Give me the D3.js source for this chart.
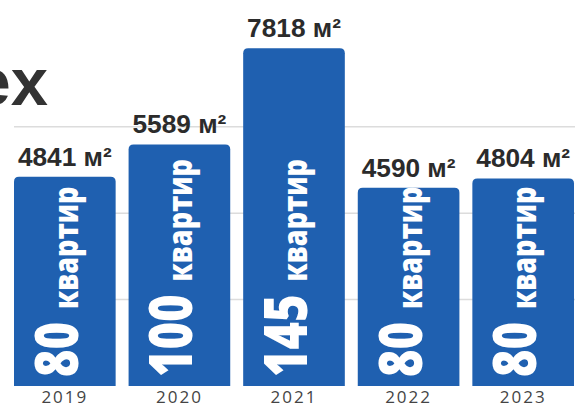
<!DOCTYPE html>
<html>
<head>
<meta charset="utf-8">
<script src="https://cdn.jsdelivr.net/npm/d3@7"></script>
<style>
  html, body { margin: 0; padding: 0; background: #fff; }
  svg { display: block; }
</style>
</head>
<body>
<svg width="580" height="407"></svg>
<script>
const years = ["2019", "2020", "2021", "2022", "2023"]
const areas = [4841, 5589, 7818, 4590, 4804]
const flats = [80, 100, 145, 80, 80]
const gridTicks = [2000, 4000, 6000]

const svg = d3.select("svg")

const data = years.map((y, i) => {
  return { year: y, area: areas[i], flats: flats[i] }
})

const x = d3.scaleBand()
  .domain(years)
  .range([14, 574])
  .paddingInner(0.113)
  .paddingOuter(0)

const y = d3.scaleLinear()
  .domain([0, 8000])
  .range([386, 40.3])

// title fragment, cut off at the left edge
svg.append("text")
  .attr("x", 48)
  .attr("y", 105)
  .attr("text-anchor", "end")
  .attr("font-family", "Liberation Sans, Arial, sans-serif")
  .attr("font-weight", 700)
  .attr("font-size", 67)
  .attr("fill", "#333")
  .text("ex")

// gridlines
svg.append("g")
  .selectAll("line")
  .data(gridTicks)
  .join("line")
  .attr("x1", 14)
  .attr("x2", 575)
  .attr("y1", d => y(d))
  .attr("y2", d => y(d))
  .attr("stroke", "#dcdcdc")
  .attr("stroke-width", 1.5)

// bars with rounded top corners
const r = 5
function barPath(d) {
  const x0 = x(d.year), x1 = x0 + x.bandwidth()
  const top = y(d.area), bottom = y(0)
  return `M${x0},${bottom}V${top + r}Q${x0},${top} ${x0 + r},${top}` +
    `H${x1 - r}Q${x1},${top} ${x1},${top + r}V${bottom}Z`
}

svg.append("g")
  .selectAll("path")
  .data(data)
  .join("path")
  .attr("d", barPath)
  .attr("fill", "#1f60b0")

// value labels above bars
svg.append("g")
  .selectAll("text")
  .data(data)
  .join("text")
  .attr("transform", d => `translate(${x(d.year) + x.bandwidth() / 2},${y(d.area) - 11}) scale(1.05,1.05)`)
  .attr("text-anchor", "middle")
  .attr("font-family", "Liberation Sans, Arial, sans-serif")
  .attr("font-weight", 700)
  .attr("font-size", 25)
  .attr("fill", "#2b2b2b")
  .text(d => d.area + " м²")

// rotated labels inside bars
const inner = svg.append("g")
  .selectAll("text")
  .data(data)
  .join("text")
  .attr("transform", d => `translate(${x(d.year) + x.bandwidth() / 2 + 13},${y(0) - 9}) rotate(-90) scale(1,1.27)`)
  .attr("font-family", "Open Sans, sans-serif")
  .attr("font-weight", 800)
  .attr("fill", "#fff")

inner.append("tspan")
  .attr("font-size", 47)
  .text(d => d.flats)

inner.append("tspan")
  .attr("dx", 13)
  .attr("font-size", 27)
  .text("квартир")

// year axis
const xAxis = d3.axisBottom(x).tickSize(0).tickPadding(0)
const axisG = svg.append("g")
  .attr("transform", "translate(0,403)")
  .call(xAxis)

axisG.select(".domain").remove()
axisG.selectAll("text")
  .attr("dy", 0)
  .attr("font-family", "Open Sans, sans-serif")
  .attr("font-size", 17)
  .attr("letter-spacing", 2)
  .attr("fill", "#444")
</script>
</body>
</html>
